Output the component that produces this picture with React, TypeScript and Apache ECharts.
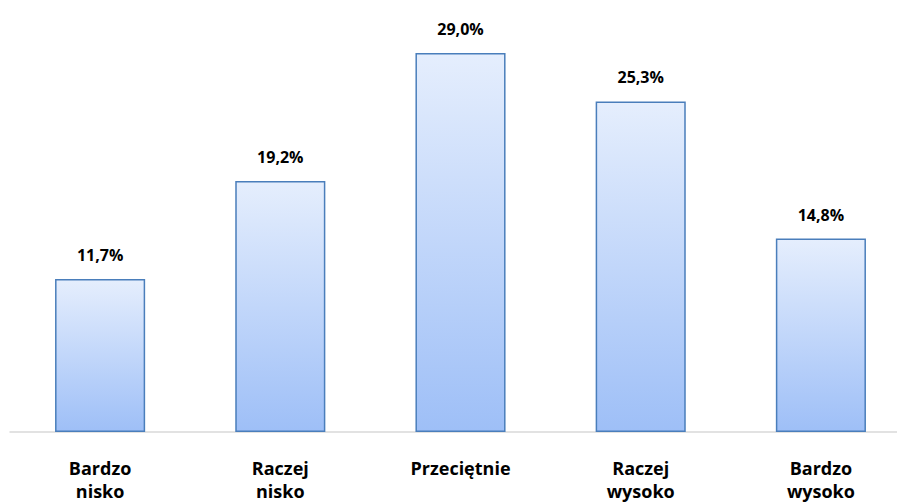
import React, { useEffect, useRef } from "react";
import * as echarts from "echarts";

const categories = ["Bardzo\nnisko", "Raczej\nnisko", "Przeciętnie", "Raczej\nwysoko", "Bardzo\nwysoko"];
const values = [11.7, 19.2, 29.0, 25.3, 14.8];

export default function App() {
  const ref = useRef<HTMLDivElement>(null);
  useEffect(() => {
    document.body.style.margin = "0";
    const chart = echarts.init(ref.current!, null, { renderer: "svg" });
    chart.setOption({
      animation: false,
      backgroundColor: "#ffffff",
      grid: { left: 10, width: 901, top: 40, height: 392, outerBoundsMode: "none", containLabel: false },
      xAxis: {
        type: "category",
        data: categories,
        axisLine: { show: true, lineStyle: { color: "#D9D9D9", width: 1.5 } },
        axisTick: { show: false },
        axisLabel: {
          interval: 0,
          margin: 24,
          color: "#000000",
          fontSize: 18,
          fontWeight: "bold",
          fontFamily: "Open Sans",
          lineHeight: 23,
        },
      },
      yAxis: {
        type: "value",
        min: 0,
        max: 30,
        show: false,
        splitLine: { show: false },
      },
      series: [
        {
          type: "bar",
          data: values,
          barWidth: "50%",
          itemStyle: {
            color: new echarts.graphic.LinearGradient(0, 0, 0, 1, [
              { offset: 0, color: "#E5EEFD" },
              { offset: 1, color: "#9EBFF7" },
            ]),
            borderColor: "#4A7EBB",
            borderWidth: 1.5,
          },
          label: {
            show: true,
            position: "top",
            distance: 16,
            color: "#000000",
            fontSize: 16,
            fontWeight: "bold",
            fontFamily: "Open Sans",
            formatter: (p: any) => p.value.toFixed(1).replace(".", ",") + "%",
          },
        },
      ],
    });
    return () => chart.dispose();
  }, []);
  return <div ref={ref} style={{ width: 897, height: 504 }} />;
}
